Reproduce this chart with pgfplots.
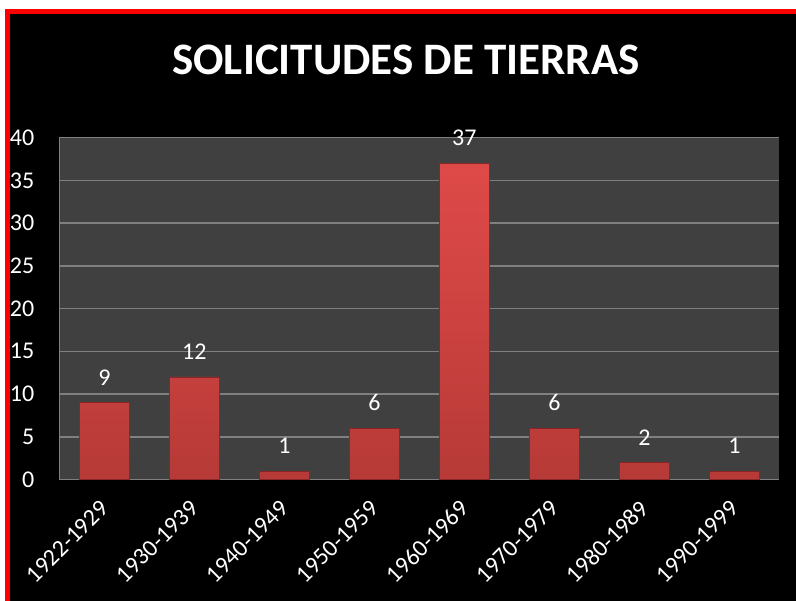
\documentclass[border=0pt]{standalone}
\usepackage{pgfplots}
\pgfplotsset{compat=1.18}
\usepackage{fontspec}
\setmainfont{Carlito}
\definecolor{plotbg}{HTML}{404040}
\definecolor{gridc}{HTML}{808080}
\definecolor{barlight}{HTML}{DE4A48}
\definecolor{barmid}{HTML}{CC4240}
\definecolor{bardark}{HTML}{B63A37}
\definecolor{baredge}{HTML}{8A2626}
\begin{document}
\begin{tikzpicture}[x=1bp,y=1bp]
\fill[white] (0,0) rectangle (796,601);
\fill[black] (5,0) rectangle (796,592);
\fill[red] (5,0) rectangle (10,592);
\fill[red] (5,587) rectangle (796,592);
\node[text=white, font=\fontsize{45bp}{48bp}\selectfont\bfseries] at (406,541) {SOLICITUDES DE TIERRAS};
\begin{axis}[
  at={(66,142)}, anchor=south west,
  scale only axis, width=720bp, height=342bp,
  xmin=-0.5, xmax=7.5, ymin=0, ymax=40,
  axis background/.style={fill=plotbg},
  axis lines*=left,
  axis line style={draw=gridc, line width=1.5bp},
  ytick={0,5,...,40},
  ymajorgrids, grid style={draw=gridc, line width=1.5bp},
  major tick length=0pt,
  xtick={0,...,7},
  xticklabels={1922-1929,1930-1939,1940-1949,1950-1959,1960-1969,1970-1979,1980-1989,1990-1999},
  /pgf/number format/assume math mode=true,
  ticklabel style={text=white, font=\fontsize{24bp}{28bp}\selectfont},
  yticklabel style={anchor=east, inner sep=0pt, xshift=-25bp},
  xticklabel style={anchor=east, inner sep=0pt, xshift=0bp, yshift=-25bp, rotate=45},
  ybar, bar width=50bp, bar shift=0pt,
  nodes near coords,
  every node near coord/.append style={text=white, font=\fontsize{24bp}{28bp}\selectfont, anchor=south, inner sep=0pt, yshift=17bp},
]
\addplot[draw=baredge, line width=0.6bp, top color=barlight, bottom color=bardark, middle color=barmid] coordinates {(0,9) (1,12) (2,1) (3,6) (4,37) (5,6) (6,2) (7,1)};
\end{axis}
\pgfresetboundingbox
\path (0,0) rectangle (796,601);
\end{tikzpicture}
\end{document}
